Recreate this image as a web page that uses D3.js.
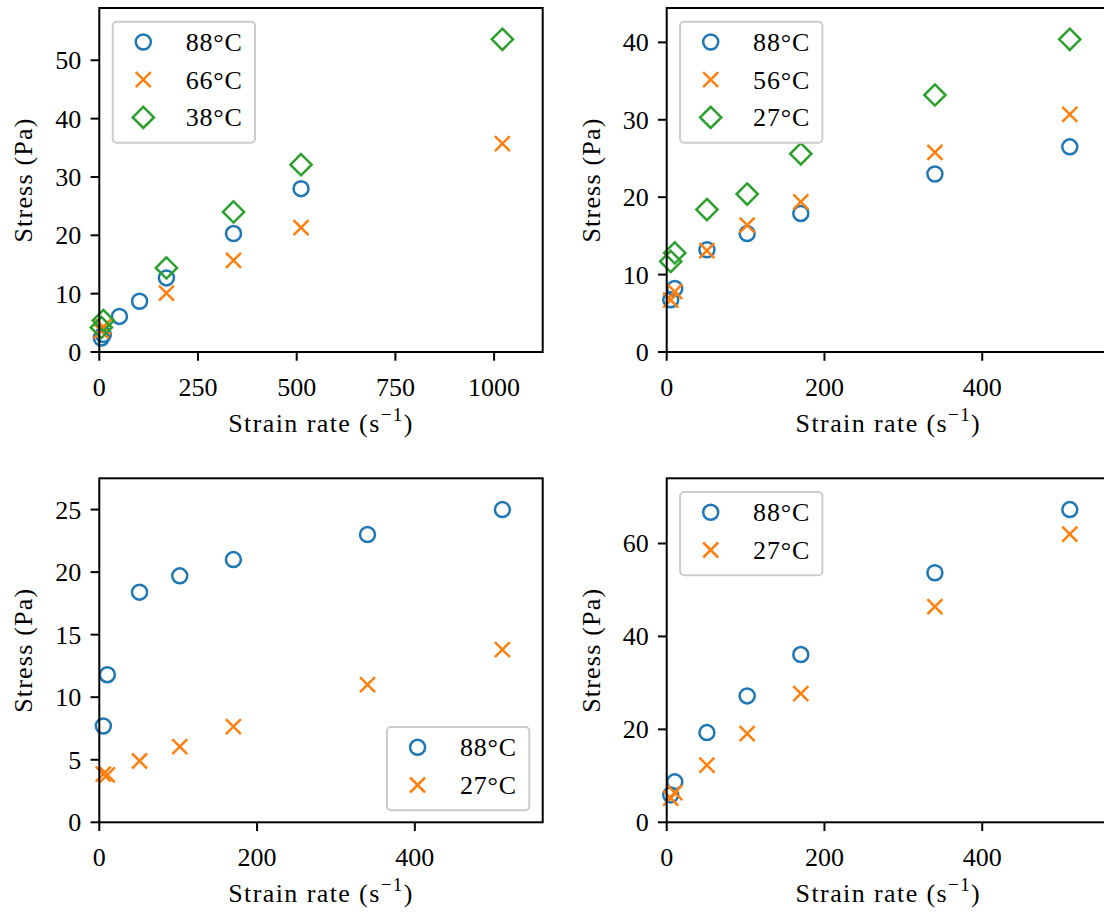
<!DOCTYPE html>
<html>
<head>
<meta charset="utf-8">
<script src="https://cdn.jsdelivr.net/npm/d3@7"></script>
<style>
  body { margin: 0; background: #fff; }
  svg { display: block; font-family: "Liberation Serif", "DejaVu Serif", serif; }
</style>
</head>
<body>
<div id="chart"></div>
<script>
// Strain rates (1/s)
const rates = [5.1, 10.2, 51, 102, 170, 340, 511];
const ratesHigh = [5.1, 10.2, 170, 340, 511, 1021];

// Panel A (top-left)
const a88 = [2.4, 3.0, 6.1, 8.7, 12.7, 20.3, 28.0];
const a66 = [3.6, 4.3, 10.1, 15.7, 21.3, 35.7];
const a38 = [4.2, 5.4, 14.4, 24.0, 32.1, 53.6];

// Panel B (top-right)
const b88 = [6.75, 8.2, 13.2, 15.3, 17.9, 23.0, 26.5];
const b56 = [6.7, 7.8, 13.1, 16.4, 19.4, 25.8, 30.7];
const b27 = [11.7, 12.8, 18.4, 20.4, 25.6, 33.2, 40.4];

// Panel C (bottom-left)
const c88 = [7.7, 11.8, 18.4, 19.7, 21.0, 23.0, 25.0];
const c27 = [3.85, 3.8, 4.9, 6.05, 7.65, 11.0, 13.8];

// Panel D (bottom-right)
const d88 = [5.9, 8.7, 19.3, 27.2, 36.1, 53.7, 67.3];
const d27 = [5.2, 6.4, 12.3, 19.1, 27.7, 46.4, 62.0];

const xTicksWide = [0, 250, 500, 750, 1000];
const xTicks = [0, 200, 400];

const COLORS = ["#1f77b4", "#ff7f0e", "#2ca02c"];
const MARKERS = ["circle", "x", "diamond"];
const FONT = 26;

const svg = d3.select("#chart").append("svg").attr("width", 1104).attr("height", 912);

function drawMarker(g, kind, color, cx, cy) {
  if (kind === "circle") {
    g.append("circle").attr("cx", cx).attr("cy", cy).attr("r", 7.5)
      .attr("fill", "none").attr("stroke", color).attr("stroke-width", 2.5);
  } else if (kind === "x") {
    const s = 7.5;
    g.append("path")
      .attr("d", `M${cx - s},${cy - s}L${cx + s},${cy + s}M${cx - s},${cy + s}L${cx + s},${cy - s}`)
      .attr("stroke", color).attr("stroke-width", 2.5).attr("fill", "none");
  } else {
    const s = 10.6;
    g.append("path")
      .attr("d", `M${cx},${cy - s}L${cx + s},${cy}L${cx},${cy + s}L${cx - s},${cy}Z`)
      .attr("stroke", color).attr("stroke-width", 2.5).attr("fill", "none")
      .attr("stroke-linejoin", "miter");
  }
}

function drawPanel(options) {
  const defaults = {
    left: 99.3, top: 8, width: 443.4, height: 344,
    xTicks: xTicks, yTicks: [],
    series: [], legendPos: "upper left",
  };
  const config = { ...defaults, ...options };
  const allX = config.series.flatMap((s) => s.x);
  const allY = config.series.flatMap((s) => s.y);

  const x = d3.scaleLinear().domain([0, 1.1 * d3.max(allX)]).range([0, config.width]);
  const y = d3.scaleLinear().domain([0, 1.1 * d3.max(allY)]).range([config.height, 0]);

  const g = svg.append("g").attr("transform", `translate(${config.left},${config.top})`);

  // Data
  config.series.forEach((s, i) => {
    const sg = g.append("g");
    s.x.forEach((v, j) => drawMarker(sg, MARKERS[i], COLORS[i], x(v), y(s.y[j])));
  });

  // Frame
  g.append("rect").attr("width", config.width).attr("height", config.height)
    .attr("fill", "none").attr("stroke", "#000").attr("stroke-width", 2);

  // X axis
  const xAxis = g.append("g").attr("transform", `translate(0,${config.height})`);
  config.xTicks.forEach((t) => {
    xAxis.append("line").attr("x1", x(t)).attr("x2", x(t)).attr("y1", 0).attr("y2", 8.75)
      .attr("stroke", "#000").attr("stroke-width", 2);
    xAxis.append("text").attr("x", x(t)).attr("y", 44).attr("text-anchor", "middle")
      .attr("font-size", FONT).text(t);
  });
  const xl = g.append("text").attr("x", config.width / 2).attr("y", config.height + 80)
    .attr("text-anchor", "middle").attr("font-size", FONT).attr("letter-spacing", 1.4);
  xl.append("tspan").text("Strain rate (s");
  xl.append("tspan").attr("dy", -11).attr("font-size", 19).text("\u22121");
  xl.append("tspan").attr("dy", 11).text(")");

  // Y axis
  config.yTicks.forEach((t) => {
    g.append("line").attr("x1", -8.75).attr("x2", 0).attr("y1", y(t)).attr("y2", y(t))
      .attr("stroke", "#000").attr("stroke-width", 2);
    g.append("text").attr("x", -18).attr("y", y(t) + 9).attr("text-anchor", "end")
      .attr("font-size", FONT).text(t);
  });
  g.append("text")
    .attr("transform", `translate(-67,${config.height / 2}) rotate(-90)`)
    .attr("text-anchor", "middle").attr("font-size", FONT).attr("letter-spacing", 1.2)
    .text("Stress (Pa)");

  // Legend
  const n = config.series.length;
  const lw = 142.3, lh = 45.6 + (n - 1) * 37.7;
  const lx = config.legendPos === "upper left" ? 13.4 : config.width - 13.4 - lw;
  const ly = config.legendPos === "upper left" ? 13.7 : config.height - 12 - lh;
  const lg = g.append("g").attr("transform", `translate(${lx},${ly})`);
  lg.append("rect").attr("width", lw).attr("height", lh).attr("rx", 4)
    .attr("fill", "#fff").attr("fill-opacity", 0.8)
    .attr("stroke", "#cccccc").attr("stroke-width", 2);
  config.series.forEach((s, i) => {
    const ry = 20.3 + i * 37.7;
    drawMarker(lg, MARKERS[i], COLORS[i], 30.6, ry);
    lg.append("text").attr("x", 73).attr("y", ry + 9).attr("font-size", FONT)
      .attr("letter-spacing", 0.8).text(s.label);
  });
}

drawPanel({
  left: 99.3, top: 8, xTicks: xTicksWide, yTicks: [0, 10, 20, 30, 40, 50],
  series: [
    { label: "88°C", x: rates, y: a88 },
    { label: "66°C", x: ratesHigh, y: a66 },
    { label: "38°C", x: ratesHigh, y: a38 },
  ],
});

drawPanel({
  left: 666.7, top: 8, yTicks: [0, 10, 20, 30, 40],
  series: [
    { label: "88°C", x: rates, y: b88 },
    { label: "56°C", x: rates, y: b56 },
    { label: "27°C", x: rates, y: b27 },
  ],
});

drawPanel({
  left: 99.3, top: 478.3, yTicks: [0, 5, 10, 15, 20, 25], legendPos: "lower right",
  series: [
    { label: "88°C", x: rates, y: c88 },
    { label: "27°C", x: rates, y: c27 },
  ],
});

drawPanel({
  left: 666.7, top: 478.3, yTicks: [0, 20, 40, 60],
  series: [
    { label: "88°C", x: rates, y: d88 },
    { label: "27°C", x: rates, y: d27 },
  ],
});
</script>
</body>
</html>
